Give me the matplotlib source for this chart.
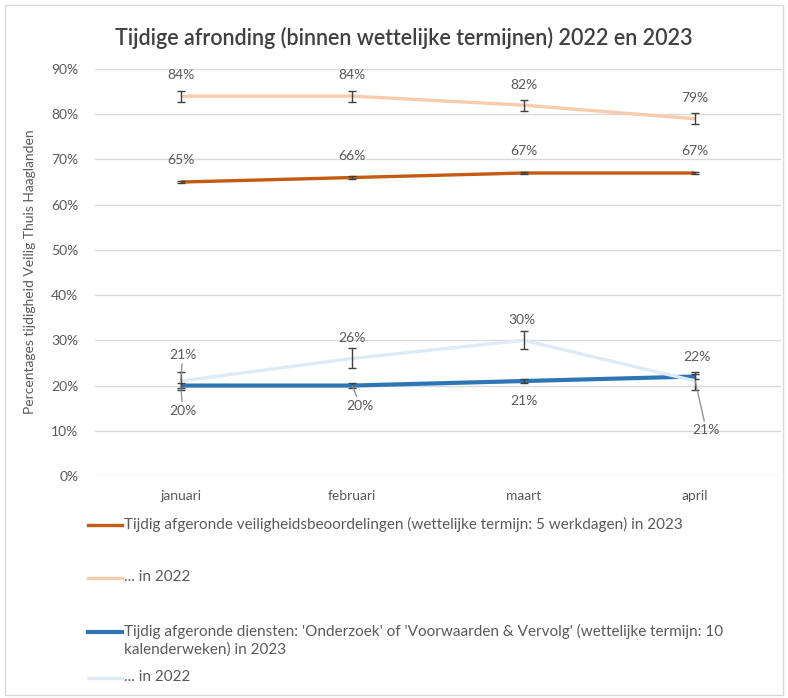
import numpy as np
import matplotlib
matplotlib.use('Agg')
import matplotlib.pyplot as plt
from matplotlib.patches import Rectangle
from matplotlib.lines import Line2D

plt.rcParams['font.family'] = ['Lato', 'DejaVu Sans']

# DATA
months = ['januari', 'februari', 'maart', 'april']
veilig_2023 = [0.65, 0.66, 0.67, 0.67]
veilig_2022 = [0.84, 0.84, 0.82, 0.79]
dienst_2023 = [0.20, 0.20, 0.21, 0.22]
dienst_2022 = [0.21, 0.26, 0.30, 0.21]
err_veilig_2023 = [0.003, 0.003, 0.003, 0.003]
err_veilig_2022 = [0.012, 0.012, 0.012, 0.012]
err_dienst_2023 = [0.005, 0.005, 0.005, 0.005]
err_dienst_2022 = [0.02, 0.022, 0.02, 0.02]
legend_labels = ['Tijdig afgeronde veiligheidsbeoordelingen (wettelijke termijn: 5 werkdagen) in 2023',
                 '... in 2022',
                 "Tijdig afgeronde diensten: 'Onderzoek' of 'Voorwaarden & Vervolg' (wettelijke termijn: 10\nkalenderweken) in 2023",
                 '... in 2022']

TXT = '#595959'
C1, C2, C3, C4 = '#C55A11', '#F8CBAD', '#2E75B6', '#DDEBF7'

W, H = 788, 698
fig = plt.figure(figsize=(W/100, H/100), dpi=100)
fig.patches.append(Rectangle((5/W, 3/H), 778/W, 690/H, transform=fig.transFigure,
                             fill=False, edgecolor='#D9D9D9', lw=1))
ax = fig.add_axes([95/W, 1-476/H, 686/W, 407/H])
x = np.arange(len(months))

series = [(veilig_2023, err_veilig_2023, C1, 2.4),
          (veilig_2022, err_veilig_2022, C2, 2.4),
          (dienst_2023, err_dienst_2023, C3, 3.0),
          (dienst_2022, err_dienst_2022, C4, 2.4)]
for k, (vals, errs, col, lw) in enumerate(series):
    ax.plot(x, vals, color=col, lw=lw, zorder=3+k, solid_capstyle='butt')
    ax.errorbar(x, vals, yerr=errs, fmt='none', ecolor='#404040', elinewidth=1,
                capsize=3, capthick=1, zorder=3+k)

# data labels: offsets in pixels, leader line yes/no
offs = {
    0: [(0, 22, False)] * 4,
    1: [(0, 21, False), (0, 21, False), (0, 20, False), (0, 21, False)],
    2: [(2, -25, True), (8, -20, True), (0, -20, False), (2, 20, False)],
    3: [(2, 26, True), (0, 20, False), (-2, 20, False), (11, -49, True)],
}
for k, (vals, errs, col, lw) in enumerate(series):
    for i, v in enumerate(vals):
        dx, dy, lead = offs[k][i]
        ap = dict(arrowstyle='-', color='#8C8C8C', lw=0.9, shrinkA=0, shrinkB=0) if lead else None
        ax.annotate('%d%%' % round(v*100), xy=(i, v), xytext=(dx, dy), textcoords='offset pixels',
                    ha='center', va='center', fontsize=10, color=TXT, arrowprops=ap, zorder=10)

ax.set_xlim(-0.5, 3.5)
ax.set_ylim(0, 0.9)
ax.set_yticks(np.arange(0, 0.91, 0.1))
ax.set_yticklabels(['%d%%' % round(t*100) for t in np.arange(0, 0.91, 0.1)])
ax.set_xticks(x)
ax.set_xticklabels(months)
ax.tick_params(length=0, colors=TXT, labelsize=10)
ax.tick_params(axis='y', pad=12)
ax.tick_params(axis='x', pad=10)
ax.grid(axis='y', color='#D9D9D9', lw=1)
for s in ax.spines.values():
    s.set_visible(False)
ax.set_axisbelow(True)

fig.text(404/W, 1-38/H, 'Tijdige afronding (binnen wettelijke termijnen) 2022 en 2023',
         ha='center', va='center', fontsize=15.5, color='#404040', fontweight='semibold')
fig.text(30/W, 1-272/H, 'Percentages tijdigheid Veilig Thuis Haaglanden', rotation=90,
         ha='center', va='center', fontsize=10, color=TXT)

# legend
leg_y = [525, 578, 632, 678]
for lab, yy, (vals, errs, col, lw) in zip(legend_labels, leg_y, series):
    fig.lines.append(Line2D([88/W, 122/W], [1-yy/H, 1-yy/H], transform=fig.transFigure,
                            color=col, lw=lw))
    fig.text(124/W, 1-(yy-8)/H, lab, ha='left', va='top', fontsize=11, color=TXT,
             linespacing=1.3)

fig.savefig('out.png', dpi=100)
